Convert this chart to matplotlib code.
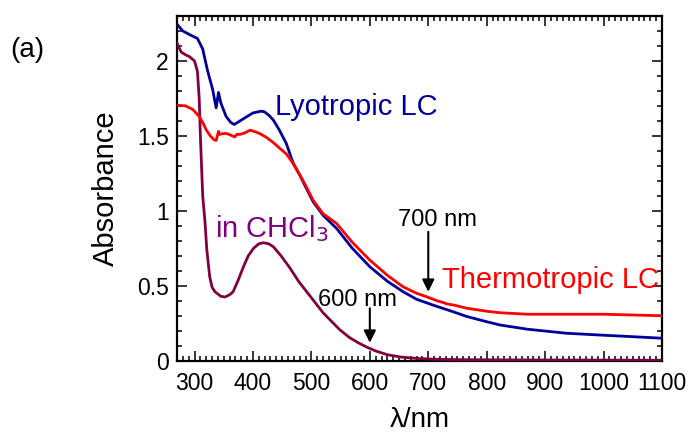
import matplotlib
matplotlib.use("Agg")
import matplotlib.pyplot as plt
from matplotlib.ticker import MultipleLocator, FixedLocator

plt.rcParams['font.family'] = ['Liberation Sans', 'DejaVu Sans']

# Lyotropic LC (blue)
lyo_x = [270, 280, 292, 305, 314, 322, 331, 337, 341, 345, 354, 362, 368, 377, 388, 400, 414, 420,
         428, 435, 445, 457, 469, 480, 490, 503, 520, 543, 570, 600, 630, 657, 680, 709, 740,
         766, 800, 823, 870, 937, 1000, 1051, 1100]
lyo_y = [2.245, 2.20, 2.175, 2.15, 2.08, 1.94, 1.81, 1.687, 1.79, 1.72, 1.63, 1.59, 1.576, 1.598, 1.625, 1.653, 1.665, 1.66,
         1.635, 1.605, 1.54, 1.45, 1.316, 1.24, 1.16, 1.06, 0.97, 0.883, 0.75, 0.627, 0.53, 0.46, 0.41, 0.37, 0.33,
         0.295, 0.26, 0.238, 0.21, 0.183, 0.17, 0.16, 0.15]

# Thermotropic LC (red)
thermo_x = [270, 285, 297, 308, 314, 320, 327, 333, 337, 339, 341, 343, 348, 355, 362, 369, 372, 378, 386, 395,
            402, 412, 423, 435, 445, 457, 469, 480, 490, 503, 520, 543, 570, 600, 630, 657, 680, 697, 715,
            728, 731, 745, 766, 800, 823, 870, 937, 1000, 1051, 1100]
thermo_y = [1.705, 1.70, 1.676, 1.63, 1.59, 1.54, 1.50, 1.475, 1.47, 1.50, 1.53, 1.51, 1.515, 1.516, 1.505, 1.493, 1.51, 1.51, 1.52, 1.538,
            1.53, 1.515, 1.49, 1.455, 1.42, 1.38, 1.316, 1.24, 1.17, 1.07, 0.98, 0.916, 0.79, 0.671, 0.57, 0.493, 0.45, 0.427, 0.40,
            0.385, 0.38, 0.37, 0.35, 0.33, 0.32, 0.31, 0.31, 0.31, 0.305, 0.30]

# in CHCl3 (maroon)
chcl3_x = [270, 277, 285, 291, 300, 305, 308, 310, 312, 314, 318, 321, 326, 330, 335, 345, 352, 360, 366, 375,
           384, 392, 401, 410, 418, 427, 435, 448, 463, 478, 492, 506, 520, 535, 549, 565, 580, 595, 610,
           630, 652, 680, 709, 750, 850, 1000, 1100]
chcl3_y = [2.12, 2.06, 2.04, 2.03, 2.00, 1.93, 1.75, 1.50, 1.30, 1.10, 0.92, 0.74, 0.56, 0.49, 0.46, 0.43, 0.425, 0.44, 0.46, 0.54,
           0.63, 0.70, 0.75, 0.78, 0.787, 0.78, 0.76, 0.70, 0.62, 0.53, 0.46, 0.39, 0.32, 0.26, 0.205, 0.155, 0.12, 0.09, 0.065,
           0.04, 0.025, 0.015, 0.01, 0.007, 0.005, 0.004, 0.003]

x_ticks = [300, 400, 500, 600, 700, 800, 900, 1000, 1100]
y_ticks = [0, 0.5, 1, 1.5, 2]
y_tick_labels = ['0', '0.5', '1', '1.5', '2']

fig = plt.figure(figsize=(6.93, 4.37), dpi=100)
ax = fig.add_axes([177/693, 1 - 360.7/437, (662-177)/693, (360.7-16)/437])

ax.plot(chcl3_x, chcl3_y, color='#800040', lw=2.0, zorder=3)
ax.plot(lyo_x, lyo_y, color='#000099', lw=2.0, zorder=4)
ax.plot(thermo_x, thermo_y, color='#ff0000', lw=2.0, zorder=5)

ax.set_xlim(270, 1100)
ax.set_ylim(0, 2.3)
ax.xaxis.set_major_locator(FixedLocator(x_ticks))
ax.xaxis.set_minor_locator(MultipleLocator(10))
ax.yaxis.set_major_locator(FixedLocator(y_ticks))
ax.set_yticklabels(y_tick_labels)
ax.yaxis.set_minor_locator(MultipleLocator(0.1))
ax.tick_params(which='both', direction='in', top=True, right=True, labelsize=16.5, width=1.1)
ax.tick_params(which='major', length=7.5)
ax.tick_params(which='minor', length=3.5)
ax.tick_params(axis='x', pad=8)
ax.tick_params(axis='y', pad=6)
for s in ax.spines.values():
    s.set_linewidth(1.6)

ax.set_ylabel('Absorbance', fontsize=21)
ax.yaxis.set_label_coords(-0.118, 0.5)
ax.set_xlabel('λ/nm', fontsize=20)
ax.xaxis.set_label_coords(0.5, -0.133)

ax.text(438, 1.638, 'Lyotropic LC', color='#000099', fontsize=21, ha='left', va='baseline')
ax.text(335, 0.823, 'in CHCl$_3$', color='#800080', fontsize=21, ha='left', va='baseline')
ax.text(723, 0.483, 'Thermotropic LC', color='#ff0000', fontsize=21, ha='left', va='baseline')
ax.text(648, 0.898, '700 nm', color='black', fontsize=17, ha='left', va='baseline')
ax.text(511, 0.365, '600 nm', color='black', fontsize=17, ha='left', va='baseline')

arrow = dict(arrowstyle='-|>', color='black', lw=1.5, mutation_scale=18, shrinkA=0, shrinkB=0)
ax.annotate('', xy=(700, 0.46), xytext=(700, 0.86), arrowprops=arrow, zorder=6)
ax.annotate('', xy=(600, 0.12), xytext=(600, 0.35), arrowprops=arrow, zorder=6)

fig.text(10/693, 1 - 57/437, '(a)', fontsize=20, ha='left', va='baseline')

fig.savefig('out.png', dpi=100)
